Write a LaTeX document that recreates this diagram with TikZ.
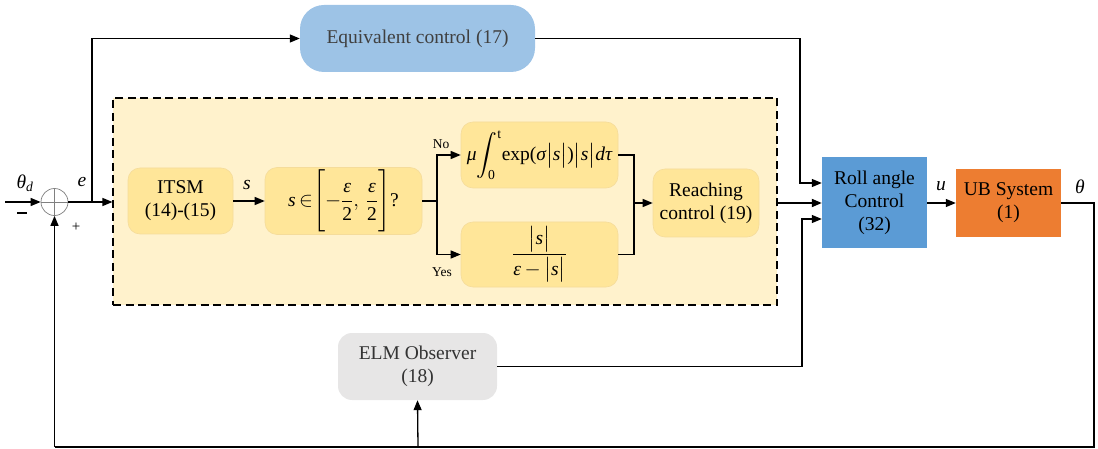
\documentclass[tikz,border=0pt]{standalone}
\usepackage{amsmath}
\usepackage{fontspec}
\setmainfont{Liberation Serif}
\usetikzlibrary{arrows.meta,calc}
\newcommand{\mi}[1]{\text{\itshape #1}}
\newcommand{\mr}[1]{\text{\upshape #1}}
\definecolor{dashfill}{HTML}{FFF2CC}
\definecolor{goldbox}{HTML}{FFE699}
\definecolor{goldedge}{HTML}{F5DC9A}
\definecolor{eqblue}{HTML}{9DC3E6}
\definecolor{rollblue}{HTML}{5B9BD5}
\definecolor{ubor}{HTML}{ED7D31}
\definecolor{elmgray}{HTML}{E7E6E6}
\definecolor{txtgray}{HTML}{404040}
\tikzset{
  every node/.style={font=\fontsize{19.5}{23}\selectfont},
  arr/.style={-{Triangle[length=10pt,width=8pt]}, line width=1.3pt},
  ln/.style={line width=1.3pt},
  goldnode/.style={draw=goldedge, line width=0.6pt, fill=goldbox, rounded corners=12pt, align=center, inner sep=0pt},
  sqnode/.style={align=center, inner sep=0pt},
  lbl/.style={inner sep=0pt},
  small/.style={inner sep=0pt, font=\fontsize{13.5}{15}\selectfont},
}
\begin{document}
\begin{tikzpicture}[x=1pt,y=-1pt]
\useasboundingbox (0,0) rectangle (1098,449);
% dashed region
\node[draw, dash pattern=on 8pt off 4.5pt, line width=1.1pt, fill=dashfill, minimum width=664pt, minimum height=207pt, inner sep=0pt] (dash) at (445,201.5) {};
% blocks
\node[fill=eqblue, rounded corners=24pt, minimum width=235pt, minimum height=67pt, sqnode, text=txtgray] (eq) at (417.5,38.5) {Equivalent control (17)};
\node[goldnode, minimum width=105pt, minimum height=66pt] (itsm) at (180.5,201) {ITSM\\(14)-(15)};
\node[goldnode, minimum width=157pt, minimum height=67pt] (sbox) at (343.5,201) {$\mi{s}\,{\in}\Biggl[-\dfrac{\mi{ε}}{\mr{2}},\,\dfrac{\mi{ε}}{\mr{2}}\Biggr]\mr{?}$};
\node[goldnode, minimum width=157pt, minimum height=66pt] (up) at (539.5,155) {$\displaystyle\mi{μ}\!\int_{\mr{0}}^{\mr{t}}\!\mr{exp(}\mi{σ}\bigl|\mi{s}\bigr|\mr{)}\bigl|\mi{s}\bigr|\mi{dτ}$};
\node[goldnode, minimum width=157pt, minimum height=65pt] (lo) at (539.5,254.5) {$\dfrac{\bigl|\mi{s}\bigr|}{\mi{ε}\,{-}\,\bigl|\mi{s}\bigr|}$};
\node[goldnode, minimum width=106pt, minimum height=68pt] (reach) at (706,203) {Reaching\\control (19)};
\node[fill=rollblue, minimum width=105pt, minimum height=91pt, sqnode] (roll) at (874.5,202.5) {Roll angle\\Control\\(32)};
\node[fill=ubor, minimum width=105pt, minimum height=68pt, sqnode] (ub) at (1008.5,203) {UB System\\(1)};
\node[fill=elmgray, rounded corners=14pt, minimum width=159pt, minimum height=67pt, sqnode, text=txtgray!80!black] (elm) at (417.5,366.5) {ELM Observer\\(18)};
% summing junction
\node[circle, draw=gray, line width=0.7pt, minimum size=27pt, inner sep=0pt,
  path picture={\draw[gray, line width=0.6pt] (path picture bounding box.north) -- (path picture bounding box.south) (path picture bounding box.west) -- (path picture bounding box.east);}] (sum) at (54.5,202) {};
% coordinates
\coordinate (in) at (5,202);
\coordinate (br1) at (92,202);
\coordinate (br2) at (437,201);
\coordinate (mg) at (634,203);
\coordinate (fb) at (1094,447);
\coordinate (fbl) at (54.5,447);
\coordinate (fbm) at (418,447);
% connectors
\draw[arr] (in) -- (sum.west);
\draw[arr] (sum.east) -- (dash.west |- sum.east);
\draw[arr] (br1) |- (eq.west);
\draw[arr] (eq.east) -| (800,183) -- (roll.west |- 0,183);
\draw[arr] (itsm.east) -- (sbox.west);
\draw[ln] (sbox.east) -- (br2);
\draw[arr] (br2) |- (up.west);
\draw[arr] (br2) |- (lo.west);
\draw[ln] (up.east) -| (mg) |- (lo.east);
\draw[arr] (mg) -- (reach.west);
\draw[arr, line width=1.8pt] (dash.east |- 0,203) -- (roll.west |- 0,203);
\draw[arr] (roll.east |- ub.west) -- (ub.west);
\draw[ln] (ub.east) -| (fb) -- (fbl);
\draw[arr] (fbl) -- (sum.south);
\draw[arr] (fbm) -- (elm.south);
\draw[arr] (elm.east) -| (802,219) -- (roll.west |- 0,219);
% labels
\node[lbl] (lthd) at (25,183) {$\mi{θ}_{\mi{d}}$};
\node[lbl, fill=black, minimum width=10pt, minimum height=2.6pt] (lminus) at (22,213) {};
\node[lbl, font=\fontsize{15}{17}\selectfont] (lplus) at (76,227) {+};
\node[lbl] (le) at (82,182) {\itshape e};
\node[lbl] (ls) at (247,185) {\itshape s};
\node[lbl] (lu) at (941,186) {\itshape u};
\node[lbl] (lth) at (1080,187) {\itshape θ};
\node[small] (lno) at (441,144) {No};
\node[small] (lyes) at (442,272) {Yes};
\end{tikzpicture}
\end{document}
